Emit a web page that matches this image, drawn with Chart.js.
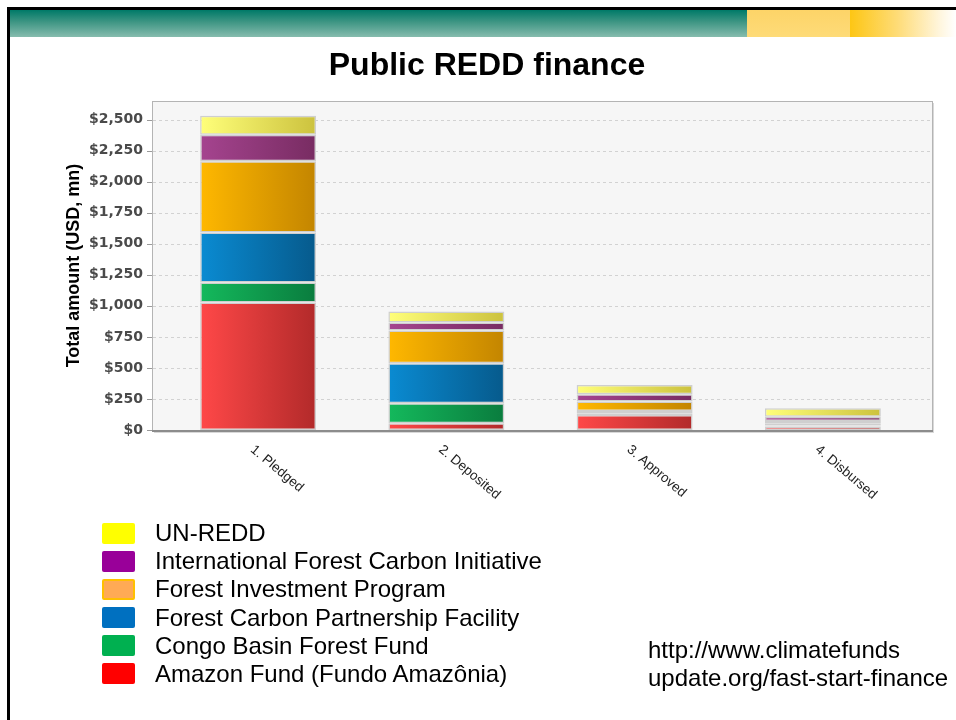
<!DOCTYPE html>
<html>
<head>
<meta charset="utf-8">
<script src="https://cdn.jsdelivr.net/npm/chart.js@4/dist/chart.umd.min.js"></script>
<style>
  body { margin: 0; background: #fff; font-family: "Liberation Sans", Arial, sans-serif; }
  #page { position: relative; width: 956px; height: 720px; overflow: hidden; background: #fff; }
  #chart { position: absolute; left: 0; top: 0; }
  .edge-top { position: absolute; left: 7px; top: 7px; width: 949px; height: 3px; background: #000; }
  .edge-left { position: absolute; left: 7px; top: 7px; width: 3px; height: 713px; background: #000; }
  .band-teal { position: absolute; left: 10px; top: 10px; width: 737px; height: 27px;
    background: linear-gradient(to bottom, #007a68, #3f9684 45%, #86bcae); }
  .band-yellow { position: absolute; left: 747px; top: 10px; width: 103px; height: 27px;
    background: linear-gradient(to bottom, #fdd468, #fedb78); }
  .band-gold { position: absolute; left: 850px; top: 10px; width: 106px; height: 27px;
    background: linear-gradient(to right, #fdc614, #fedc78 45%, #fff6de 85%, #ffffff); }
  #title { position: absolute; left: 0; width: 974px; top: 46px; text-align: center;
    font: bold 32px "Liberation Sans", Arial, sans-serif; color: #000; }
  #legend { position: absolute; left: 102px; top: 519px; }
  .row { position: relative; height: 28.2px; }
  .sw { position: absolute; left: 0; top: 3.5px; width: 33px; height: 21px; border-radius: 2px; box-sizing: border-box; }
  .lbl { position: absolute; left: 53px; top: 0; line-height: 28px; white-space: nowrap;
    font: 24px "Liberation Sans", Arial, sans-serif; color: #000; }
  #source { position: absolute; left: 648px; top: 636px; line-height: 28.5px;
    font: 24px "Liberation Sans", Arial, sans-serif; color: #000; }
</style>
</head>
<body>
<div id="page">
  <canvas id="chart" width="956" height="720"></canvas>
  <div class="edge-top"></div>
  <div class="edge-left"></div>
  <div class="band-teal"></div>
  <div class="band-yellow"></div>
  <div class="band-gold"></div>
  <div id="title">Public REDD finance</div>
  <div id="legend"></div>
  <div id="source">http://www.climatefunds<br>update.org/fast-start-finance</div>
</div>
<script>
// Categories and series values (USD, mn), bottom of the stack first
const categories = ['1. Pledged', '2. Deposited', '3. Approved', '4. Disbursed'];
const amazonFund = [1027, 54, 121, 28];
const congoBasinFund = [161, 161, 10, 8];
const forestCarbonPartnership = [403, 323, 22, 14];
const forestInvestment = [573, 263, 77, 22];
const intlForestCarbon = [215, 64, 58, 35];
const unRedd = [153, 89, 75, 68];
const yTickStep = 250;
const yMax = 2650;

const seriesNames = ['Amazon Fund (Fundo Amazônia)', 'Congo Basin Forest Fund', 'Forest Carbon Partnership Facility',
  'Forest Investment Program', 'International Forest Carbon Initiative', 'UN-REDD'];
const seriesValues = [amazonFund, congoBasinFund, forestCarbonPartnership, forestInvestment, intlForestCarbon, unRedd];
const barShades = [
  ['#ff4848', '#b22a2a'],
  ['#14b95c', '#0a7c3e'],
  ['#0a8bd2', '#065a8c'],
  ['#ffb800', '#c38500'],
  ['#a5448f', '#782c62'],
  ['#ffff7a', '#ccc23e']
];
const legendColors = ['#ff0000', '#00b050', '#0070c0', '#ffaa55', '#990099', '#ffff00'];

// legend, top entry first
const legend = document.getElementById('legend');
for (let i = seriesNames.length - 1; i >= 0; i--) {
  const row = document.createElement('div');
  row.className = 'row';
  const sw = document.createElement('div');
  sw.className = 'sw';
  sw.style.background = legendColors[i];
  if (i === 3) sw.style.border = '2px solid #ffc000';
  const lbl = document.createElement('div');
  lbl.className = 'lbl';
  lbl.textContent = seriesNames[i];
  row.appendChild(sw);
  row.appendChild(lbl);
  legend.appendChild(row);
}

const BAR_FRACTION = 0.616;

function barGradient(context, shades) {
  const chart = context.chart;
  if (!chart.chartArea) return shades[0];
  const xs = chart.scales.x;
  const cx = xs.getPixelForValue(context.dataIndex);
  const half = (chart.chartArea.right - chart.chartArea.left) / categories.length * BAR_FRACTION / 2;
  const g = chart.ctx.createLinearGradient(cx - half, 0, cx + half, 0);
  g.addColorStop(0, shades[0]);
  g.addColorStop(1, shades[1]);
  return g;
}

// plot frame, background, grid lines and slanted category labels
const framePlugin = {
  id: 'frame',
  beforeDatasetsDraw(chart) {
    const { ctx, chartArea } = chart;
    const ys = chart.scales.y;
    const left = chartArea.left - 12, right = chartArea.right + 15;
    const top = Math.round(chartArea.top), bottom = ys.getPixelForValue(0);
    ctx.save();
    ctx.fillStyle = '#d8d8d8';
    ctx.fillRect(left + 2, top + 2, right - left, bottom - top + 1);
    ctx.fillStyle = '#f6f6f6';
    ctx.fillRect(left, top, right - left, bottom - top);
    ctx.strokeStyle = '#d2d2d2';
    ctx.lineWidth = 1;
    ctx.setLineDash([3, 3]);
    ys.ticks.forEach(t => {
      if (t.value === 0) return;
      const y = Math.round(ys.getPixelForValue(t.value)) + 0.5;
      ctx.beginPath();
      ctx.moveTo(left + 1, y);
      ctx.lineTo(right - 1, y);
      ctx.stroke();
    });
    ctx.setLineDash([]);
    ctx.strokeStyle = '#b4b4b4';
    ctx.strokeRect(left + 0.5, top + 0.5, right - left, bottom - top);
    ctx.strokeStyle = '#9a9a9a';
    ys.ticks.forEach(t => {
      const y = Math.round(ys.getPixelForValue(t.value)) + 0.5;
      ctx.beginPath();
      ctx.moveTo(left - 5, y);
      ctx.lineTo(left, y);
      ctx.stroke();
    });
    ctx.restore();
  },
  afterDatasetsDraw(chart) {
    const { ctx, chartArea } = chart;
    const ys = chart.scales.y;
    const left = chartArea.left - 12, right = chartArea.right + 15;
    const bottom = ys.getPixelForValue(0);
    ctx.save();
    ctx.strokeStyle = '#8c8c8c';
    ctx.lineWidth = 2;
    ctx.beginPath();
    ctx.moveTo(left, bottom + 1);
    ctx.lineTo(right + 1, bottom + 1);
    ctx.stroke();
    // category labels, slanted down to the right
    const xs = chart.scales.x;
    ctx.fillStyle = '#222';
    ctx.font = '13.5px "Liberation Sans", Arial, sans-serif';
    ctx.textAlign = 'left';
    ctx.textBaseline = 'middle';
    categories.forEach((c, i) => {
      const x = xs.getPixelForValue(i);
      ctx.save();
      ctx.translate(x - 6, bottom + 18);
      ctx.rotate(40 * Math.PI / 180);
      ctx.fillText(c, 0, 0);
      ctx.restore();
    });
    ctx.restore();
  }
};

const ctx = document.getElementById('chart').getContext('2d');
const chart = new Chart(ctx, {
  type: 'bar',
  data: {
    labels: categories,
    datasets: seriesValues.map((vals, i) => ({
      label: seriesNames[i],
      data: vals,
      backgroundColor: c => barGradient(c, barShades[i]),
      borderColor: '#cfcfcf',
      borderWidth: 1.5,
      borderSkipped: false,
      barPercentage: BAR_FRACTION,
      categoryPercentage: 1
    }))
  },
  options: {
    responsive: false,
    animation: false,
    layout: { padding: { left: 0, right: 39, top: 101, bottom: 290 } },
    plugins: { legend: { display: false }, tooltip: { enabled: false } },
    scales: {
      x: { stacked: true, display: false },
      y: {
        stacked: true,
        min: 0,
        max: yMax,
        afterBuildTicks: s => { s.ticks = s.ticks.filter(t => t.value % yTickStep === 0); },
        afterFit: s => { s.width = 164; },
        grid: { display: false, drawTicks: false },
        border: { display: false },
        ticks: {
          stepSize: yTickStep,
          padding: 21,
          color: '#4a4a4a',
          font: { family: '"DejaVu Sans", Verdana, sans-serif', size: 14, weight: 'bold' },
          callback: v => '$' + v.toLocaleString('en-US')
        },
        title: {
          display: true,
          text: 'Total amount (USD, mn)',
          color: '#000',
          font: { family: '"Liberation Sans", Arial, sans-serif', size: 18, weight: 'bold' },
          padding: { top: 63 }
        }
      }
    }
  },
  plugins: [framePlugin]
});
</script>
</body>
</html>
